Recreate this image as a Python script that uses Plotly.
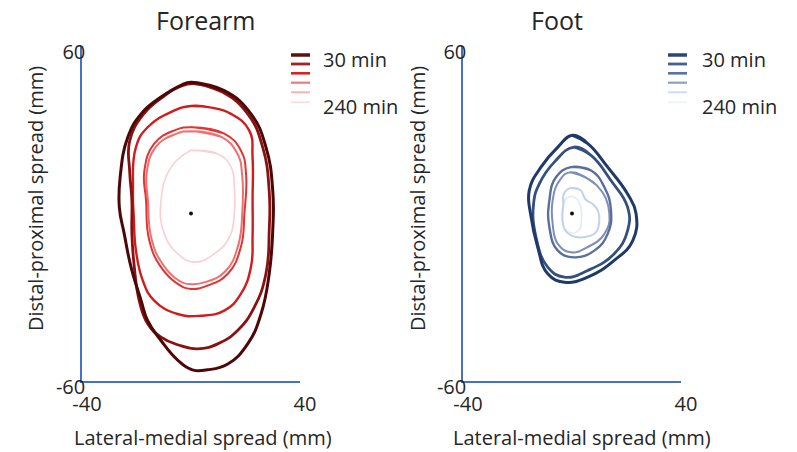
import plotly.graph_objects as go

W, H = 797, 452

# ---------------- data (mm) ----------------
time_labels = ["30 min", "60 min", "90 min", "120 min", "180 min", "240 min"]

forearm_30 = [(0, 47), (12.2, 44), (22, 35.7), (27.5, 23.8), (30, 8.2), (30, -6), (28.7, -21.6),
              (25.7, -36), (20.8, -46.7), (13.5, -53.9), (6, -56), (0.5, -56), (-4.9, -52.5),
              (-11, -45.5), (-15.9, -38.4), (-18.3, -31.2), (-22, -19.2), (-24.5, -7.3),
              (-26.3, 2.3), (-26, 13), (-23.2, 27.3), (-18.3, 35.7), (-11, 41.7), (-3.7, 45.9)]
forearm_60 = [(1, 46.5), (11.5, 43.5), (20.8, 35.7), (26.3, 23.8), (28.7, 8), (28.7, -6),
              (27.5, -21.6), (23.2, -33.6), (17.1, -41.9), (9.8, -46.7), (2.4, -48.5),
              (-4.9, -47), (-11, -44.3), (-15.9, -39.5), (-19, -31.2), (-20.8, -19.2),
              (-21.7, -7.3), (-21.7, 4.7), (-22.5, 15), (-22.5, 26), (-17.5, 35.5), (-10, 42),
              (-4, 45.5)]
forearm_90 = [(0, 38.5), (7, 38), (14.7, 35.7), (21.4, 29.7), (22.6, 20), (22.6, 5), (22.6, -8),
              (22, -19.2), (18.3, -28.8), (12.2, -34.8), (3.7, -36.6), (-4.9, -36),
              (-13.5, -31.2), (-17.7, -24), (-20.2, -13.3), (-21, -1.3), (-21.3, 8),
              (-20.2, 23.8), (-15.9, 30.9), (-7, 36.5)]
forearm_120 = [(0, 30.9), (12.2, 28.6), (18.3, 22.6), (20.2, 14.2), (19.6, 0), (18.3, -12),
               (13.5, -21.6), (6.1, -25.8), (0, -27), (-4.9, -25.2), (-11, -19.2),
               (-15.3, -9.7), (-16.5, 4.7), (-17.1, 15.4), (-13.5, 25), (-6, 29.8)]
forearm_180 = [(0, 29.5), (11, 27.5), (17, 21.5), (18.8, 13.5), (18.8, 0), (17.3, -11.5),
               (12.8, -20.5), (5.5, -24.5), (0, -25.3), (-4.5, -24), (-10.5, -18),
               (-14.5, -9), (-15.8, 4.5), (-16.2, 15), (-12.8, 24), (-5.5, 28.5)]
forearm_240 = [(0, 22.6), (9.8, 21.4), (14.7, 16.6), (15.9, 9.4), (15.9, 0), (14.1, -8.5),
               (8.6, -14.4), (1.2, -17.4), (-4.9, -14.4), (-9.8, -7.3), (-11, 4.7),
               (-7.3, 16.6), (-1.2, 22)]

foot_30 = [(0.2, 28), (5.8, 25), (13.1, 16.6), (20.4, 7), (23.5, 0), (22.3, -9.7),
           (15.5, -16.8), (5.8, -22.8), (-2.8, -24.6), (-8.9, -21.6), (-12.6, -12),
           (-15, -1.3), (-15.7, 8.2), (-11.4, 16.6), (-5.2, 23.8)]
foot_60 = [(0.8, 23.8), (7, 20.8), (14.3, 11.8), (20.4, 2.3), (20.4, -6.1), (15.5, -14.4),
           (5.8, -20.4), (-2.8, -22.8), (-8.9, -19.2), (-13.2, -8.5), (-14.1, 3.5),
           (-12, 10.6), (-6.5, 18.4)]
foot_90 = [(-0.4, 16.6), (7, 15.4), (11.9, 9.4), (14.3, 1.1), (13.1, -7.3), (8.2, -13.3),
           (0.8, -15.7), (-5.2, -13.3), (-8.3, -4.9), (-8.3, 4.7), (-5.9, 13)]
foot_120 = [(-0.4, 14.8), (9.2, 10), (13.7, 0), (11.9, -7.3), (5.8, -12), (-0.4, -13.9),
            (-5.2, -10.9), (-7.1, -3.7), (-7.1, 4.7), (-4.6, 11.8)]
foot_180 = [(-1, 9), (3, 8.5), (5, 5), (7.5, 3.5), (9.5, 1), (10, -3), (8.5, -7), (4, -8.5),
            (0, -8), (-2.5, -6), (-3.5, -2), (-3.2, 3), (-3, 7)]
foot_240 = [(-3.5, 2), (-2, 5.5), (1, 5.8), (3, 3), (3.5, -2), (2.5, -6), (-1, -6.8),
            (-3.3, -4)]

forearm_colors = ["#4e0707", "#8b1111", "#d01c1c", "#e23434", "#ef7070", "#fbd0d0"]
foot_colors = ["#1f3a68", "#34507f", "#5a6f9c", "#7d8fb8", "#c3d2ec", "#e3ebf7"]
legend_forearm_colors = ["#5c0f0f", "#9b2626", "#d42424", "#ef7a7a", "#f8b4b4", "#fcdcdc"]
legend_foot_colors = ["#2e4670", "#4a5f8a", "#5a72a0", "#8fa0c5", "#d0dbee", "#edf2fa"]
line_widths = [3, 2.8, 2.4, 2, 2, 1.6]

x_ticks = [-40, 40]
x_tick_text = ["-40", "40"]
y_ticks = [-60, 60]
y_tick_text = ["-60", "60"]

forearm_sets = [forearm_30, forearm_60, forearm_90, forearm_120, forearm_180, forearm_240]
foot_sets = [foot_30, foot_60, foot_90, foot_120, foot_180, foot_240]

# ---------------- figure ----------------
FONT = "Open Sans"
TXT = "#262626"
AXC = "#4472c4"

fig = go.Figure()


def add_contours(sets, colors, xa, ya):
    # draw innermost first so outer dark lines lie on top
    for pts, col, lw, name in reversed(list(zip(sets, colors, line_widths, time_labels))):
        closed = pts + pts[:2]
        fig.add_trace(go.Scatter(
            x=[p[0] for p in closed], y=[p[1] for p in closed],
            mode="lines", line=dict(color=col, width=lw, shape="spline", smoothing=1.3),
            name=name, showlegend=False, xaxis=xa, yaxis=ya, hoverinfo="skip"))
    fig.add_trace(go.Scatter(x=[0], y=[0], mode="markers",
                             marker=dict(color="#111111", size=4),
                             showlegend=False, xaxis=xa, yaxis=ya))


add_contours(forearm_sets, forearm_colors, "x", "y")
add_contours(foot_sets, foot_colors, "x2", "y2")

ydom = [1 - 381 / H, 1 - 46 / H]
common_x = dict(range=[-40, 40], showgrid=False, zeroline=False, showline=True,
                linecolor=AXC, linewidth=1.5, tickvals=x_ticks, ticktext=x_tick_text,
                ticks="", tickfont=dict(family=FONT, size=20, color=TXT),
                ticklabelstandoff=4, ticklabelshift=5, fixedrange=True, automargin=False)
common_y = dict(range=[-60, 60], showgrid=False, zeroline=False, showline=True,
                linecolor=AXC, linewidth=1.5, tickvals=y_ticks, ticktext=y_tick_text,
                ticks="", tickfont=dict(family=FONT, size=20, color=TXT),
                ticklabelstandoff=-9, ticklabelshift=6, fixedrange=True, automargin=False)

fig.update_layout(
    width=W, height=H, margin=dict(l=0, r=0, t=0, b=0, autoexpand=False),
    paper_bgcolor="white", plot_bgcolor="white", showlegend=False,
    xaxis=dict(domain=[82 / W, 300 / W], anchor="y", **common_x),
    yaxis=dict(domain=ydom, anchor="x", **common_y),
    xaxis2=dict(domain=[463 / W, 681 / W], anchor="y2", **common_x),
    yaxis2=dict(domain=ydom, anchor="x2", **common_y),
)


def ann(text, px, py, size=20, angle=0, xanchor="center"):
    fig.add_annotation(text=text, x=px / W, y=1 - py / H, xref="paper", yref="paper",
                       showarrow=False, xanchor=xanchor, yanchor="middle", textangle=angle,
                       font=dict(family=FONT, size=size, color=TXT))


# titles
ann("Forearm", 205, 20, size=25)
ann("Foot", 557, 20, size=25)
# axis titles
ann("Lateral-medial spread (mm)", 203, 437)
ann("Lateral-medial spread (mm)", 582, 437)
ann("Distal-proximal spread (mm)", 36, 199, angle=-90)
ann("Distal-proximal spread (mm)", 418, 199, angle=-90)

# custom legends
legend_rows = [55, 64, 73.3, 82.7, 92.3, 102.3]
legend_widths = [3.5, 2.8, 2.6, 2.2, 2, 1.8]
for (x0, x1, tx, colors) in [(291, 310, 321, legend_forearm_colors),
                             (668, 687, 700, legend_foot_colors)]:
    for yy, col, lw in zip(legend_rows, colors, legend_widths):
        fig.add_shape(type="line", xref="paper", yref="paper",
                      x0=x0 / W, x1=x1 / W, y0=1 - yy / H, y1=1 - yy / H,
                      line=dict(color=col, width=lw))
    ann(time_labels[0], tx, 60, xanchor="left")
    ann(time_labels[-1], tx, 107, xanchor="left")

fig.write_html("out.html")
